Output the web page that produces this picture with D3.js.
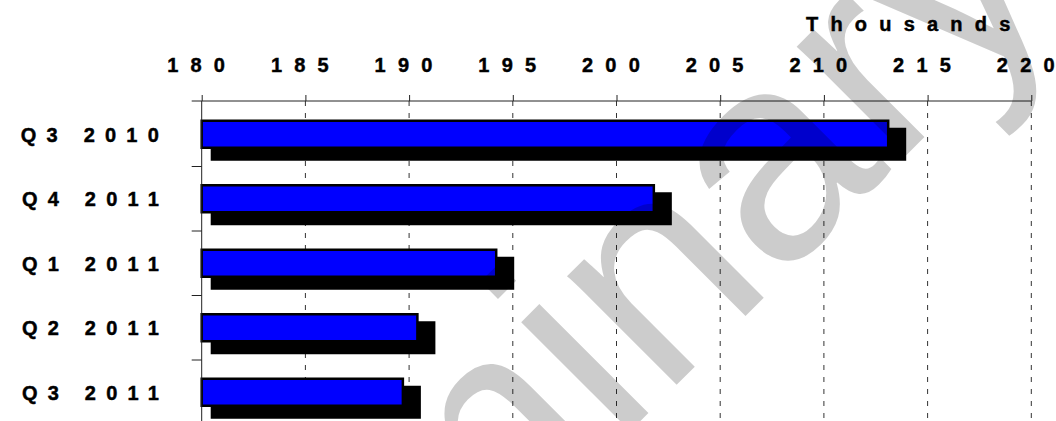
<!DOCTYPE html>
<html>
<head>
<meta charset="utf-8">
<script src="https://cdn.jsdelivr.net/npm/d3@7"></script>
<style>
  html, body { margin: 0; padding: 0; background: #ffffff; }
  svg { display: block; }
  text { font-family: "Liberation Sans", Arial, sans-serif; }
  .lbl { font-size: 20px; font-weight: bold; fill: #000; stroke: #000; stroke-width: 0.45px; }
</style>
</head>
<body>
<script>
// Quarterly totals, in thousands
const categories = ["Q3 2010", "Q4 2011", "Q1 2011", "Q2 2011", "Q3 2011"];
const values = [213.1, 201.8, 194.2, 190.4, 189.7];
const tickValues = [180, 185, 190, 195, 200, 205, 210, 215, 220];
const unitLabel = "Thousands";
const stampText = "Preliminary";

const W = 1056, H = 421;
const svg = d3.select("body").append("svg").attr("width", W).attr("height", H);

const x = d3.scaleLinear().domain([180, 220]).range([201.7, 1031.3]);
const y = d3.scaleBand().domain(categories).range([102, 424.5]).padding(0);
const axisY = 101;
const barH = 27;
const barTop = c => y(c) + (y.bandwidth() - barH) / 2;

// dashed vertical gridlines
svg.append("g").selectAll("line")
  .data(tickValues.slice(1))
  .join("line")
  .attr("x1", d => x(d)).attr("x2", d => x(d))
  .attr("y1", axisY).attr("y2", H + 5)
  .attr("stroke", "#333").attr("stroke-width", 1)
  .attr("stroke-dasharray", "5,7");

// drop shadows behind the bars
svg.append("g").selectAll("rect")
  .data(categories)
  .join("rect")
  .attr("x", x(180) + 9)
  .attr("y", c => barTop(c) + 7)
  .attr("width", (c, i) => x(values[i]) + 18 - (x(180) + 9))
  .attr("height", barH + 6)
  .attr("fill", "#000");

// bars
svg.append("g").selectAll("rect")
  .data(categories)
  .join("rect")
  .attr("x", x(180))
  .attr("y", c => barTop(c))
  .attr("width", (c, i) => x(values[i]) - x(180))
  .attr("height", barH)
  .attr("fill", "#0000ff")
  .attr("stroke", "#000").attr("stroke-width", 2.5);

// top value axis
const topAxis = svg.append("g").attr("transform", `translate(0,${axisY})`)
  .call(d3.axisTop(x).tickValues(tickValues).tickSize(6).tickSizeOuter(0).tickFormat(d3.format("d")));
topAxis.select(".domain").remove();
topAxis.selectAll(".tick line").attr("stroke", "#222");
topAxis.selectAll(".tick text")
  .attr("class", "lbl")
  .attr("y", -(axisY - 72)).attr("dy", 0)
  .style("letter-spacing", "12.2px");

svg.append("line")
  .attr("x1", x(180) - 10).attr("x2", x(220))
  .attr("y1", axisY).attr("y2", axisY)
  .attr("stroke", "#222").attr("stroke-width", 1);

// left category axis
svg.append("line")
  .attr("x1", x(180)).attr("x2", x(180))
  .attr("y1", axisY).attr("y2", H + 5)
  .attr("stroke", "#222").attr("stroke-width", 1);

svg.append("g").selectAll("line")
  .data(categories.slice(1))
  .join("line")
  .attr("x1", x(180) - 10).attr("x2", x(180))
  .attr("y1", c => y(c)).attr("y2", c => y(c))
  .attr("stroke", "#222").attr("stroke-width", 1);

svg.append("g").selectAll("text")
  .data(categories)
  .join("text")
  .attr("class", "lbl")
  .attr("x", 169)
  .attr("y", c => y(c) + y.bandwidth() / 2 + 7.5)
  .attr("text-anchor", "end")
  .style("letter-spacing", "10.2px")
  .text(d => d);

// unit label
svg.append("text")
  .attr("class", "lbl")
  .attr("x", 806).attr("y", 31)
  .style("letter-spacing", "12.2px")
  .text(unitLabel);

// translucent diagonal stamp across the plot
svg.append("text")
  .attr("transform", "translate(547.7,513.8) rotate(-45)")
  .attr("text-anchor", "middle")
  .style("font-size", "292px")
  .attr("fill", "#000").attr("fill-opacity", 0.2)
  .text(stampText);
</script>
</body>
</html>
